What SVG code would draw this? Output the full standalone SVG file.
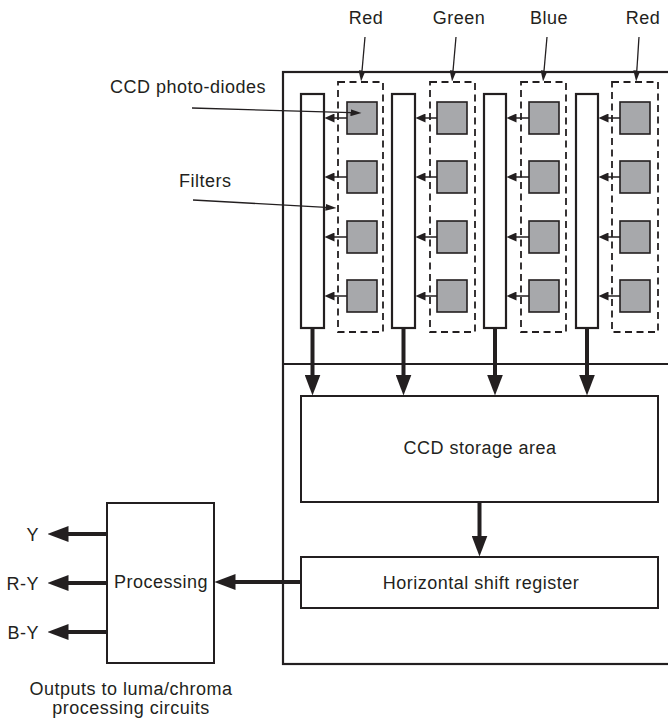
<svg xmlns="http://www.w3.org/2000/svg" width="668" height="720" viewBox="0 0 668 720">
<style>
text{font-family:"Liberation Sans",Arial,sans-serif;font-size:18px;fill:#231f20;letter-spacing:0.5px}
.frame{fill:none;stroke:#231f20;stroke-width:2.2}
.box{fill:#fff;stroke:#231f20;stroke-width:2}
.filter{fill:#fff;stroke:#231f20;stroke-width:2.2}
.diode{fill:#a7a8ab;stroke:#231f20;stroke-width:1.6}
.dash{fill:none;stroke:#231f20;stroke-width:1.8;stroke-dasharray:7,4.5}
.thick{fill:none;stroke:#231f20;stroke-width:4;marker-end:url(#big)}
.small{fill:none;stroke:#231f20;stroke-width:1.5;marker-end:url(#sm)}
.lead{fill:none;stroke:#231f20;stroke-width:1.3;marker-end:url(#ld)}
</style>
<defs>
<marker id="big" viewBox="0 0 21 16" refX="0.5" refY="8" markerWidth="21" markerHeight="16" markerUnits="userSpaceOnUse" orient="auto"><path d="M0,0 L21,8 L0,16 z" fill="#231f20"/></marker>
<marker id="sm" viewBox="0 0 10 9" refX="0.5" refY="4.5" markerWidth="10" markerHeight="9" markerUnits="userSpaceOnUse" orient="auto"><path d="M0,0 L10,4.5 L0,9 z" fill="#231f20"/></marker>
<marker id="ld" viewBox="0 0 11 7" refX="0.5" refY="3.5" markerWidth="11" markerHeight="7" markerUnits="userSpaceOnUse" orient="auto"><path d="M0,0 L11,3.5 L0,7 z" fill="#231f20"/></marker>
</defs>
<rect width="668" height="720" fill="#fff"/>
<g id="sensor-frame">
<rect class="frame" x="283" y="72" width="400" height="592"/>
<line x1="283" y1="364" x2="668" y2="364" stroke="#231f20" stroke-width="2"/>
</g>
<g id="filter-1"><rect class="filter" x="301" y="94" width="23" height="234"/></g>
<g id="filter-2"><rect class="filter" x="392" y="94" width="23" height="234"/></g>
<g id="filter-3"><rect class="filter" x="484" y="94" width="22" height="234"/></g>
<g id="filter-4"><rect class="filter" x="576" y="94" width="22" height="234"/></g>
<g id="column-red-1">
<rect class="dash" x="338" y="82" width="45" height="250"/>
<rect class="diode" x="347" y="102" width="30" height="32"/>
<rect class="diode" x="347" y="161" width="30" height="32"/>
<rect class="diode" x="347" y="221" width="30" height="32"/>
<rect class="diode" x="347" y="280" width="30" height="32"/>
</g>
<g id="column-green">
<rect class="dash" x="430" y="82" width="45" height="250"/>
<rect class="diode" x="437" y="102" width="30" height="32"/>
<rect class="diode" x="437" y="161" width="30" height="32"/>
<rect class="diode" x="437" y="221" width="30" height="32"/>
<rect class="diode" x="437" y="280" width="30" height="32"/>
</g>
<g id="column-blue">
<rect class="dash" x="521" y="82" width="45" height="250"/>
<rect class="diode" x="529" y="102" width="30" height="32"/>
<rect class="diode" x="529" y="161" width="30" height="32"/>
<rect class="diode" x="529" y="221" width="30" height="32"/>
<rect class="diode" x="529" y="280" width="30" height="32"/>
</g>
<g id="column-red-2">
<rect class="dash" x="612" y="82" width="46" height="250"/>
<rect class="diode" x="620" y="102" width="30" height="32"/>
<rect class="diode" x="620" y="161" width="30" height="32"/>
<rect class="diode" x="620" y="221" width="30" height="32"/>
<rect class="diode" x="620" y="280" width="30" height="32"/>
</g>
<g id="storage">
<rect class="box" x="301" y="396" width="357" height="106"/>
<text x="480" y="454" text-anchor="middle">CCD storage area</text>
</g>
<g id="shift-register">
<rect class="box" x="301" y="557" width="357" height="51"/>
<text x="481" y="589" text-anchor="middle">Horizontal shift register</text>
</g>
<g id="processing">
<rect class="box" x="107" y="503" width="107" height="160"/>
<text x="161" y="588" text-anchor="middle">Processing</text>
</g>
<g id="labels">
<text x="366" y="24" text-anchor="middle">Red</text>
<text x="459" y="24" text-anchor="middle">Green</text>
<text x="549" y="24" text-anchor="middle">Blue</text>
<text x="643" y="24" text-anchor="middle">Red</text>
<text x="110" y="93">CCD photo-diodes</text>
<text x="179" y="187">Filters</text>
<text x="39" y="541" text-anchor="end">Y</text>
<text x="39" y="590" text-anchor="end">R-Y</text>
<text x="39" y="639" text-anchor="end">B-Y</text>
<text x="131" y="695" text-anchor="middle">Outputs to luma/chroma</text>
<text x="131" y="714" text-anchor="middle">processing circuits</text>
</g>
<g id="connectors">
<path class="small" d="M347,118 H334"/><path class="small" d="M347,177 H334"/><path class="small" d="M347,237 H334"/><path class="small" d="M347,296 H334"/>
<path class="small" d="M437,118 H425"/><path class="small" d="M437,177 H425"/><path class="small" d="M437,237 H425"/><path class="small" d="M437,296 H425"/>
<path class="small" d="M529,118 H516"/><path class="small" d="M529,177 H516"/><path class="small" d="M529,237 H516"/><path class="small" d="M529,296 H516"/>
<path class="small" d="M620,118 H608"/><path class="small" d="M620,177 H608"/><path class="small" d="M620,237 H608"/><path class="small" d="M620,296 H608"/>
<path class="thick" d="M312.5,328 V375"/>
<path class="thick" d="M403.5,328 V375"/>
<path class="thick" d="M495,328 V375"/>
<path class="thick" d="M587,328 V375"/>
<path class="thick" d="M479.5,502 V536"/>
<path class="thick" d="M301,582 H235"/>
<path class="thick" d="M107,534 H68"/>
<path class="thick" d="M107,583 H68"/>
<path class="thick" d="M107,632 H68"/>
<path class="lead" d="M365,37 L362,71"/>
<path class="lead" d="M456,37 L453,71"/>
<path class="lead" d="M547,37 L544,71"/>
<path class="lead" d="M639,37 L636.8,71"/>
<path class="lead" d="M192,108 L351,112.7"/>
<path class="lead" d="M193,200 L326,207.4"/>
</g>
</svg>
